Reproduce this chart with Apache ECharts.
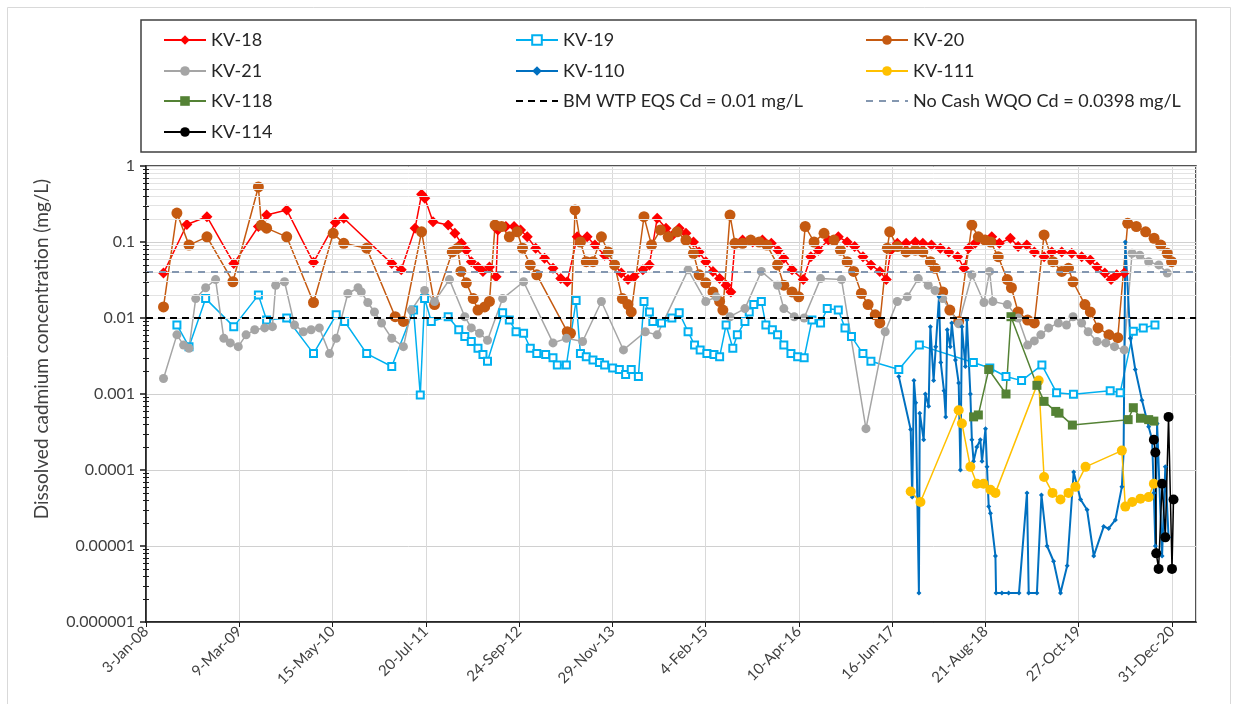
<!DOCTYPE html>
<html>
<head>
<meta charset="utf-8">
<script src="https://cdn.jsdelivr.net/npm/echarts@6/dist/echarts.min.js"></script>
<style>
html,body{margin:0;padding:0;background:#fff;}
#chart{width:1238px;height:704px;}
</style>
</head>
<body>
<div id="chart"></div>
<script>
// ---------- DATA ----------
const xTickStartDate = '2008-01-03';
const xTickIntervalDays = 431.5;
const xAxisEndDate = '2021-04-22';

const kv18Dates = ['2008-03-24','2008-07-10','2008-10-11','2009-02-12','2009-06-06','2009-07-14','2009-10-15','2010-02-16','2010-05-28','2010-07-06',
  '2011-02-13','2011-03-29','2011-06-01','2011-07-01','2011-07-16','2011-08-23','2011-11-01','2011-12-02','2012-01-01','2012-01-24',
  '2012-02-16','2012-03-18','2012-04-10','2012-05-10','2012-06-10','2012-06-18','2012-07-25','2012-09-01','2012-10-01','2012-11-01',
  '2012-12-10','2013-01-20','2013-02-28','2013-04-05','2013-05-05','2013-06-20','2013-08-05','2013-09-10','2013-10-25','2013-12-10',
  '2014-01-10','2014-02-10','2014-03-10','2014-04-20','2014-05-20','2014-06-25','2014-08-05','2014-09-05','2014-10-05','2014-11-05',
  '2014-12-10','2015-01-05','2015-02-05','2015-03-10','2015-04-10','2015-05-10','2015-06-01','2015-06-20','2015-07-25','2015-09-10',
  '2015-10-25','2015-12-05','2016-01-05','2016-02-01','2016-03-10','2016-05-01','2016-06-05','2016-07-10','2016-08-25','2016-10-10',
  '2016-11-20','2016-12-25','2017-02-01','2017-03-10','2017-04-20','2017-05-20','2017-06-10','2017-07-10','2017-08-20','2017-10-01',
  '2017-11-05','2017-12-15','2018-01-25','2018-03-05','2018-04-15','2018-05-15','2018-06-05','2018-07-05','2018-08-20','2018-09-20',
  '2018-10-25','2018-12-15','2019-01-20','2019-03-01','2019-04-05','2019-05-20','2019-06-25','2019-08-10','2019-09-25','2019-11-10',
  '2019-12-20','2020-01-20','2020-02-25','2020-03-25','2020-04-20','2020-05-25'];
const kv18Values = [0.039,0.17,0.215,0.052,0.16,0.226,0.264,0.054,0.18,0.205,
  0.052,0.043,0.152,0.425,0.376,0.185,0.167,0.13,0.096,0.078,
  0.055,0.047,0.041,0.047,0.035,0.144,0.16,0.16,0.144,0.117,
  0.083,0.061,0.045,0.033,0.030,0.117,0.117,0.091,0.067,0.05,
  0.039,0.032,0.035,0.043,0.05,0.205,0.152,0.124,0.152,0.13,
  0.10,0.074,0.055,0.041,0.033,0.027,0.022,0.096,0.106,0.10,
  0.106,0.096,0.078,0.061,0.043,0.032,0.064,0.078,0.106,0.117,
  0.10,0.087,0.064,0.05,0.041,0.032,0.078,0.096,0.096,0.10,
  0.096,0.091,0.083,0.074,0.064,0.045,0.083,0.096,0.106,0.117,
  0.096,0.112,0.087,0.091,0.074,0.064,0.074,0.074,0.071,0.064,
  0.058,0.047,0.039,0.032,0.037,0.039];

const kv19Dates = ['2008-05-25','2008-07-20','2008-10-05','2009-02-12','2009-06-06','2009-07-14','2009-10-15','2010-02-16','2010-06-01','2010-07-10',
  '2010-10-20','2011-02-13','2011-05-25','2011-06-25','2011-07-15','2011-08-15','2011-11-01','2011-12-20','2012-01-17','2012-02-16',
  '2012-03-18','2012-04-10','2012-05-01','2012-07-10','2012-08-10','2012-09-10','2012-10-15','2012-11-15','2012-12-15','2013-01-25',
  '2013-02-28','2013-03-20','2013-05-01','2013-06-15','2013-07-05','2013-08-01','2013-09-01','2013-10-01','2013-10-25','2013-12-01',
  '2014-01-01','2014-01-30','2014-02-25','2014-03-30','2014-04-25','2014-05-20','2014-06-05','2014-07-15','2014-09-01','2014-10-05',
  '2014-11-15','2014-12-15','2015-01-10','2015-02-10','2015-03-15','2015-04-10','2015-05-10','2015-06-10','2015-07-01','2015-08-05',
  '2015-08-25','2015-09-15','2015-10-20','2015-11-10','2015-12-10','2016-01-03','2016-02-01','2016-03-05','2016-04-05','2016-05-05',
  '2016-06-10','2016-07-20','2016-08-20','2016-10-10','2016-11-10','2016-12-10','2017-02-01','2017-03-10','2017-07-17','2017-10-20',
  '2018-06-27','2018-09-11','2018-11-25','2019-02-05','2019-05-10','2019-07-17','2019-10-03','2020-03-21','2020-05-06','2020-07-06',
  '2020-08-21','2020-10-14'];
const kv19Values = [0.0081,0.0042,0.018,0.0077,0.02,0.0094,0.01,0.0034,0.011,0.009,
  0.0034,0.0023,0.0127,0.00097,0.018,0.009,0.0104,0.007,0.0057,0.0049,
  0.004,0.0033,0.0027,0.0117,0.0094,0.0066,0.0063,0.004,0.0034,0.0033,
  0.003,0.0024,0.0024,0.017,0.0034,0.0031,0.0028,0.0026,0.0024,0.0022,
  0.0021,0.0018,0.0021,0.0017,0.0165,0.012,0.009,0.0086,0.01,0.0117,
  0.0066,0.0044,0.0038,0.0034,0.0033,0.0031,0.0081,0.004,0.006,0.009,
  0.012,0.015,0.0165,0.0081,0.007,0.006,0.0044,0.0034,0.0031,0.003,
  0.0094,0.0086,0.0133,0.0127,0.0074,0.0057,0.0034,0.0027,0.0021,0.0044,
  0.0026,0.0022,0.0017,0.0015,0.0024,0.00104,0.00099,0.0011,0.00104,0.0067,
  0.0074,0.0081];

const kv20Dates = ['2008-03-24','2008-05-25','2008-07-20','2008-10-11','2009-02-08','2009-06-06','2009-06-20','2009-07-14','2009-10-15','2010-02-16',
  '2010-05-18','2010-07-06','2010-10-20','2011-03-01','2011-04-08','2011-07-01','2011-08-30','2011-11-20','2011-12-15','2011-12-30',
  '2012-01-24','2012-02-25','2012-03-18','2012-04-18','2012-05-10','2012-06-05','2012-07-05','2012-08-10','2012-09-15','2012-10-10',
  '2012-11-15','2012-12-15','2013-05-05','2013-05-20','2013-06-10','2013-07-05','2013-08-01','2013-09-01','2013-10-10','2013-11-10',
  '2013-12-10','2014-01-15','2014-02-10','2014-02-25','2014-04-25','2014-05-30','2014-07-10','2014-08-15','2014-09-25','2014-11-05',
  '2014-12-10','2015-01-05','2015-02-05','2015-03-10','2015-04-10','2015-04-25','2015-05-28','2015-06-20','2015-07-25','2015-09-01',
  '2015-10-10','2015-11-15','2016-01-03','2016-02-01','2016-03-10','2016-04-10','2016-05-10','2016-06-20','2016-08-05','2016-09-20',
  '2016-10-20','2016-11-20','2016-12-20','2017-01-25','2017-02-25','2017-03-30','2017-04-20','2017-05-25','2017-06-05','2017-07-10',
  '2017-08-20','2017-10-01','2017-11-05','2017-12-10','2018-01-01','2018-02-05','2018-03-10','2018-04-20','2018-06-20','2018-07-20',
  '2018-08-20','2018-09-15','2018-10-20','2018-12-01','2018-12-20','2019-01-20','2019-03-05','2019-04-05','2019-05-20','2019-06-30',
  '2019-08-10','2019-09-10','2019-10-01','2019-11-25','2019-12-20','2020-01-25','2020-03-15','2020-04-25','2020-06-10','2020-07-20',
  '2020-09-01','2020-10-10','2020-11-10','2020-12-10','2020-12-30'];
const kv20Values = [0.014,0.24,0.091,0.117,0.030,0.53,0.167,0.152,0.117,0.016,
  0.13,0.096,0.083,0.0104,0.009,0.136,0.015,0.074,0.083,0.041,
  0.029,0.018,0.0127,0.014,0.0165,0.167,0.16,0.117,0.136,0.083,
  0.05,0.037,0.0066,0.0063,0.264,0.10,0.055,0.055,0.117,0.074,
  0.05,0.018,0.015,0.012,0.215,0.091,0.144,0.117,0.136,0.106,
  0.071,0.037,0.029,0.022,0.0165,0.0127,0.226,0.096,0.096,0.106,
  0.10,0.091,0.05,0.027,0.022,0.019,0.16,0.10,0.13,0.106,
  0.078,0.055,0.041,0.021,0.015,0.011,0.0086,0.083,0.136,0.087,
  0.074,0.078,0.074,0.055,0.045,0.022,0.0127,0.009,0.167,0.117,
  0.106,0.10,0.064,0.032,0.025,0.012,0.0094,0.0086,0.124,0.055,
  0.041,0.045,0.030,0.015,0.012,0.0074,0.006,0.0055,0.176,0.16,
  0.136,0.112,0.091,0.071,0.055];

const kv21Dates = ['2008-03-24','2008-05-25','2008-06-25','2008-07-20','2008-08-20','2008-10-05','2008-11-20','2008-12-28','2009-01-27','2009-03-05',
  '2009-04-10','2009-05-20','2009-07-05','2009-08-10','2009-08-25','2009-10-05','2009-11-20','2009-12-31','2010-02-05','2010-03-15',
  '2010-05-01','2010-06-01','2010-07-25','2010-09-10','2010-09-25','2010-10-25','2010-11-25','2010-12-28','2011-02-13','2011-04-08',
  '2011-05-15','2011-07-15','2011-08-30','2011-11-07','2012-01-17','2012-02-16','2012-03-25','2012-05-01','2012-07-10','2012-10-15',
  '2013-02-28','2013-05-01','2013-07-15','2013-10-10','2014-01-20','2014-05-01','2014-06-25','2014-11-15','2015-02-05','2015-03-25',
  '2015-05-28','2015-08-05','2015-10-20','2016-01-03','2016-02-01','2016-03-20','2016-05-05','2016-07-20','2016-10-25','2017-02-15',
  '2017-05-15','2017-07-10','2017-08-25','2017-10-15','2017-11-30','2018-01-01','2018-02-05','2018-04-20','2018-06-20','2018-08-15',
  '2018-09-10','2018-09-25','2018-12-01','2019-01-20','2019-03-05','2019-04-05','2019-05-05','2019-06-10','2019-07-25','2019-09-01',
  '2019-10-01','2019-11-10','2019-12-10','2020-01-20','2020-03-01','2020-04-10','2020-05-25','2020-06-30','2020-08-05','2020-09-15',
  '2020-11-01','2020-12-10'];
const kv21Values = [0.0016,0.006,0.0044,0.004,0.018,0.025,0.032,0.0054,0.0047,0.0042,
  0.006,0.007,0.0074,0.0077,0.027,0.030,0.0081,0.0066,0.007,0.0074,
  0.0034,0.0054,0.021,0.025,0.022,0.016,0.012,0.0086,0.0054,0.0042,
  0.0127,0.023,0.0165,0.032,0.0104,0.0074,0.0063,0.0051,0.018,0.030,
  0.0047,0.0054,0.0049,0.0165,0.0038,0.0066,0.006,0.043,0.0165,0.019,
  0.0104,0.0133,0.041,0.027,0.0133,0.0104,0.01,0.033,0.032,0.00035,
  0.0066,0.0165,0.019,0.033,0.027,0.023,0.018,0.0084,0.037,0.016,
  0.041,0.0165,0.015,0.01,0.0044,0.005,0.006,0.0074,0.0086,0.0081,
  0.0104,0.0086,0.0066,0.0049,0.0047,0.0042,0.0038,0.071,0.067,0.055,
  0.05,0.039];

const kv110Dates = ['2017-07-17','2017-09-10','2017-09-17','2017-09-25','2017-10-03','2017-10-18','2017-10-22','2017-11-09','2017-11-17','2017-12-02',
  '2017-12-10','2017-12-25','2018-01-04','2018-01-19','2018-01-27','2018-02-11','2018-02-19','2018-02-26','2018-03-12','2018-03-19',
  '2018-04-05','2018-04-20','2018-04-28','2018-05-05','2018-05-21','2018-05-28','2018-06-13','2018-06-20','2018-06-28','2018-07-13',
  '2018-07-29','2018-08-06','2018-08-22','2018-08-29','2018-09-06','2018-09-14','2018-10-07','2018-10-10','2018-11-06','2018-12-07',
  '2019-01-24','2019-03-02','2019-03-10','2019-04-17','2019-05-08','2019-06-03','2019-07-03','2019-08-04','2019-09-04','2019-10-04',
  '2019-11-05','2019-12-05','2020-01-05','2020-02-20','2020-03-14','2020-04-14','2020-05-14','2020-05-22','2020-05-30','2020-06-22',
  '2020-07-15','2020-08-15','2020-09-15','2020-10-01','2020-10-09','2020-10-16','2020-10-24','2020-11-16','2020-12-01','2020-12-16'];
const kv110Values = [0.0017,0.00034,0.000044,0.0015,0.00077,0.0000024,0.00056,0.00025,0.001,0.00069,
  0.0077,0.0015,0.0042,0.019,0.0026,0.0011,0.0005,0.007,0.0042,0.0086,
  0.0028,0.0014,0.0001,0.0077,0.0023,0.0094,0.001,0.00025,0.00013,0.0002,
  0.00025,0.00013,0.00035,0.00011,0.000033,0.000027,0.0000074,0.0000024,0.0000024,0.0000024,
  0.0000024,0.00005,0.0000024,0.0000024,0.000047,0.00001,0.0000063,0.0000024,0.0000055,0.000094,
  0.000041,0.00003,0.0000074,0.000018,0.000017,0.000022,0.00006,0.00017,0.10,0.0054,
  0.0021,0.00083,0.00037,0.00025,0.00005,0.00001,0.00041,0.0000074,0.00011,0.000013];

const kv111Dates = ['2017-09-10','2017-10-25','2018-04-20','2018-05-05','2018-06-13','2018-07-13','2018-08-13','2018-09-14','2018-10-07','2019-04-25',
  '2019-05-20','2019-06-28','2019-08-04','2019-09-10','2019-10-12','2019-11-28','2020-05-14','2020-05-30','2020-07-01','2020-08-08',
  '2020-09-15','2020-10-09'];
const kv111Values = [0.000052,0.000038,0.00061,0.00041,0.00011,0.000066,0.000066,0.000055,0.00005,0.0015,
  0.000081,0.00005,0.000041,0.00005,0.00006,0.00011,0.00018,0.000033,0.000038,0.000042,
  0.000044,0.000066];

const kv118Dates = ['2018-06-28','2018-07-20','2018-09-06','2018-11-25','2018-12-18','2019-04-17','2019-05-20','2019-07-13','2019-07-28','2019-09-28',
  '2020-06-12','2020-07-06','2020-08-08','2020-09-15','2020-10-09'];
const kv118Values = [0.0005,0.00053,0.0021,0.001,0.0104,0.0013,0.0008,0.00059,0.00056,0.00039,
  0.00046,0.00066,0.00048,0.00046,0.00044];

const kv114Dates = ['2020-10-09','2020-10-16','2020-10-20','2020-10-31','2020-11-16','2020-12-01','2020-12-16','2021-01-01','2021-01-08'];
const kv114Values = [0.00025,0.00017,0.000008,0.000005,0.000066,0.000013,0.0005,0.000005,0.000041];

const bmWtpEqs = 0.01;
const noCashWqo = 0.0398;

const yMin = 0.000001, yMax = 1;
const yAxisTitle = 'Dissolved cadmium concentration (mg/L)';
// ---------- END DATA ----------

const MONTHS = ['Jan','Feb','Mar','Apr','May','Jun','Jul','Aug','Sep','Oct','Nov','Dec'];
function utc(s){ const p = s.split('-').map(Number); return Date.UTC(p[0], p[1]-1, p[2]); }
const ORIGIN = utc(xTickStartDate);
const DAY = 86400000;
function dayOf(s){ return (utc(s) - ORIGIN) / DAY; }
function pairs(d, v){ return d.map((x, i) => [dayOf(x), v[i]]); }
function fmtDate(val){
  const d = new Date(ORIGIN + Math.floor(val + 1e-6) * DAY);
  return d.getUTCDate() + '-' + MONTHS[d.getUTCMonth()] + '-' + String(d.getUTCFullYear()).slice(2);
}
function fmtY(v){
  const e = Math.round(Math.log10(v));
  return e >= 0 ? '1' : Math.pow(10, e).toFixed(-e);
}

const FONT = 'Lato';
const TXT = '#404040';

// log minor values (axis decoration)
const minorVals = [];
for (let e = Math.round(Math.log10(yMin)); e < Math.round(Math.log10(yMax)); e++) {
  for (let k = 2; k <= 9; k++) minorVals.push(k * Math.pow(10, e));
}

function lineSeries(name, data, color, symbol, size, extra){
  return Object.assign({
    name, type: 'line', data,
    symbol, symbolSize: size,
    itemStyle: { color },
    lineStyle: { color, width: 1.5 },
    emphasis: { disabled: true },
    animation: false
  }, extra || {});
}

const series = [
  { name: '_grid', type: 'line', data: [], z: 1, silent: true, animation: false,
    markLine: { silent: true, symbol: ['none','none'], label: { show: false }, animation: false,
      lineStyle: { color: '#e3e3e3', type: 'solid', width: 1 }, data: minorVals.map(v => ({ yAxis: v })) } },
  lineSeries('KV-18', pairs(kv18Dates, kv18Values), '#ff0000', 'diamond', 11),
  lineSeries('KV-19', pairs(kv19Dates, kv19Values), '#00b0f0', 'emptyRect', 7, { itemStyle: { color: '#00b0f0', borderWidth: 1.5 } }),
  lineSeries('KV-20', pairs(kv20Dates, kv20Values), '#c55a11', 'circle', 11),
  lineSeries('KV-21', pairs(kv21Dates, kv21Values), '#a5a5a5', 'circle', 9),
  lineSeries('KV-110', pairs(kv110Dates, kv110Values), '#0070c0', 'diamond', 5, { lineStyle: { color: '#0070c0', width: 2 } }),
  lineSeries('KV-111', pairs(kv111Dates, kv111Values), '#ffc000', 'circle', 10),
  lineSeries('KV-118', pairs(kv118Dates, kv118Values), '#548235', 'rect', 9),
  { name: 'BM WTP EQS Cd = 0.01 mg/L', type: 'line', data: [], symbol: 'none', animation: false,
    itemStyle: { color: '#000' }, lineStyle: { color: '#000', width: 2, type: [7, 5] },
    markLine: { silent: true, symbol: ['none','none'], label: { show: false }, animation: false,
      lineStyle: { color: '#000', width: 2, type: [7, 5] }, data: [{ yAxis: bmWtpEqs }] } },
  { name: 'No Cash WQO Cd = 0.0398 mg/L', type: 'line', data: [], symbol: 'none', animation: false,
    itemStyle: { color: '#8497b0' }, lineStyle: { color: '#8497b0', width: 2, type: [7, 6] },
    markLine: { silent: true, symbol: ['none','none'], label: { show: false }, animation: false,
      lineStyle: { color: '#8497b0', width: 2, type: [7, 6] }, data: [{ yAxis: noCashWqo }] } },
  lineSeries('KV-114', pairs(kv114Dates, kv114Values), '#000000', 'circle', 10)
];

const legendNames = ['KV-18','KV-19','KV-20','KV-21','KV-110','KV-111','KV-118','BM WTP EQS Cd = 0.01 mg/L','No Cash WQO Cd = 0.0398 mg/L','KV-114'];
const dashedNames = ['BM WTP EQS Cd = 0.01 mg/L','No Cash WQO Cd = 0.0398 mg/L'];
const legendCols = [163, 515, 865];
const legendRows = [41, 72, 102, 133];
const legends = legendNames.map((n, i) => ({
  data: [dashedNames.includes(n) ? { name: n, itemStyle: { opacity: 0 } } : n],
  left: legendCols[i % 3],
  top: legendRows[Math.floor(i / 3)] - 10,
  padding: 0,
  itemWidth: 42, itemHeight: 12, itemGap: 5,
  selectedMode: false,
  textStyle: { fontFamily: FONT, fontSize: 18, color: '#262626' }
}));

const option = {
  backgroundColor: '#ffffff',
  animation: false,
  textStyle: { fontFamily: FONT },
  legend: legends,
  grid: { left: 146, right: 42, top: 166, bottom: 82, show: true, borderColor: '#1a1a1a', borderWidth: 1.5, containLabel: false },
  xAxis: {
    type: 'value', min: 0, max: dayOf(xAxisEndDate), interval: xTickIntervalDays,
    axisLine: { show: true, lineStyle: { color: '#1a1a1a', width: 1.5 } },
    axisTick: { show: true, length: 5, lineStyle: { color: '#1a1a1a', width: 1 } },
    axisLabel: { rotate: 45, fontSize: 15, color: TXT, fontFamily: FONT, margin: 7, formatter: fmtDate, showMaxLabel: false },
    splitLine: { show: true, lineStyle: { color: '#d9d9d9', width: 1 } }
  },
  yAxis: {
    type: 'log', logBase: 10, min: yMin, max: yMax, interval: 1,
    axisLine: { show: true, lineStyle: { color: '#1a1a1a', width: 1.5 } },
    axisTick: { show: true, length: 6, lineStyle: { color: '#1a1a1a', width: 1.5 } },
    axisLabel: { fontSize: 16, color: TXT, fontFamily: FONT, margin: 11, formatter: fmtY },
    splitLine: { show: true, lineStyle: { color: '#d0d0d0', width: 1 } }
  },
  series
};

const chart = echarts.init(document.getElementById('chart'), null, { renderer: 'canvas' });
chart.setOption(option);

// decorations: frames, y-axis title, minor ticks on y axis
const axisX = chart.convertToPixel({ xAxisIndex: 0 }, 0);
const graphics = [
  { type: 'rect', shape: { x: 7.5, y: 7.5, width: 1223, height: 700 }, style: { fill: 'none', stroke: '#d9d9d9', lineWidth: 1 }, silent: true, z: -1 },
  { type: 'rect', shape: { x: 141, y: 20, width: 1055, height: 132 }, style: { fill: 'none', stroke: '#404040', lineWidth: 1.5 }, silent: true },
  { type: 'text', x: 42, y: 349, rotation: Math.PI / 2, silent: true,
    style: { text: yAxisTitle, fontFamily: FONT, fontSize: 19, fill: TXT, align: 'center', verticalAlign: 'middle' } }
];
minorVals.forEach(v => {
  const y = Math.round(chart.convertToPixel({ yAxisIndex: 0 }, v)) + 0.5;
  graphics.push({ type: 'line', silent: true, z: 10,
    shape: { x1: axisX - 3, y1: y, x2: axisX + 3, y2: y }, style: { stroke: '#1a1a1a', lineWidth: 1 } });
});
chart.setOption({ graphic: graphics });
</script>
</body>
</html>
